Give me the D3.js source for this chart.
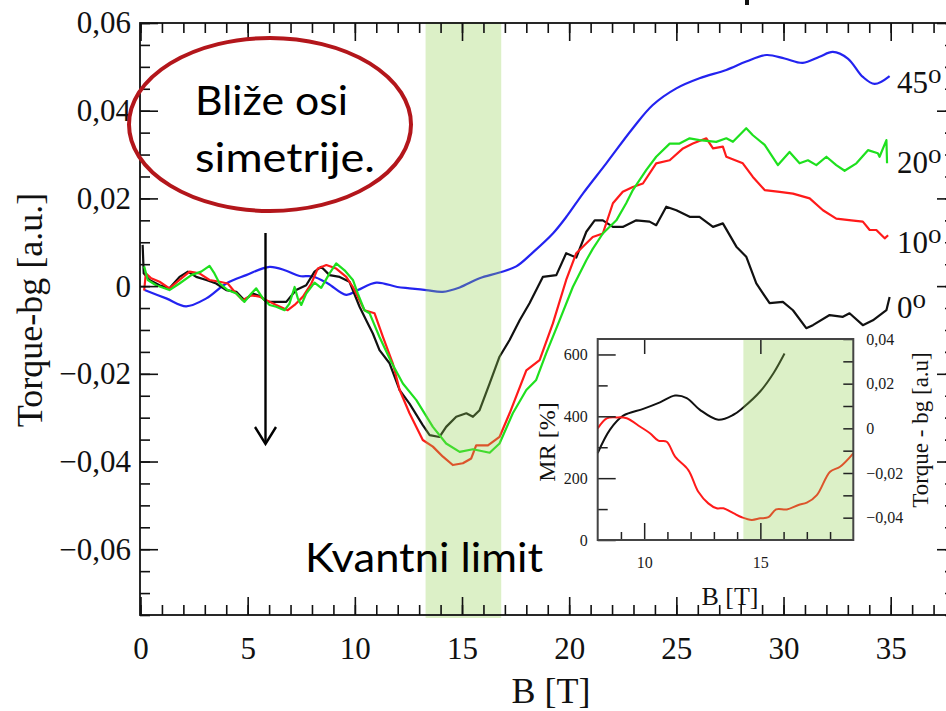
<!DOCTYPE html>
<html>
<head>
<meta charset="utf-8">
<script src="https://cdn.jsdelivr.net/npm/d3@7"></script>
<style>
  html, body { margin: 0; padding: 0; background: #fff; }
  svg { display: block; }
</style>
</head>
<body>
<script>
// ---------------- DATA ----------------
const xMajorTicks = [0, 5, 10, 15, 20, 25, 30, 35];
const yMajorTicks = [-0.06, -0.04, -0.02, 0, 0.02, 0.04, 0.06];
const bandRange = [13.3, 16.83];           // "Kvantni limit" band, T
const curveLabels = ["45", "20", "10", "0"];
const curveLabelValues = [0.0465, 0.0283, 0.0101, -0.0047];

const blue45 = [[0.19,-0.0009],[1.2,-0.0028],[2.13,-0.0046],[3.07,-0.0028],[4.0,0.0006],[4.93,0.0025],[6.02,0.0044],[6.8,0.0035],[7.42,0.0023],[8.04,0.0022],[8.74,0.0006],[9.6,-0.002],[10.14,-0.0009],[11.0,0.0008],[11.98,-0.0002],[12.55,-0.0005],[13.33,-0.0009],[14.1,-0.0013],[14.89,-0.0003],[15.82,0.0018],[16.75,0.0031],[17.53,0.0045],[18.31,0.0077],[19.24,0.012],[19.9,0.016],[20.64,0.0211],[21.73,0.028],[22.97,0.036],[23.9,0.0413],[25.0,0.0451],[26.08,0.0474],[27.33,0.0493],[28.26,0.0512],[29.2,0.0527],[30.05,0.0519],[30.9,0.0509],[31.68,0.0523],[32.3,0.0534],[33.0,0.0519],[33.7,0.0477],[34.25,0.0461],[34.95,0.0479]];

const green20 = [[0.17,0.0045],[0.34,0.0014],[0.73,0.0002],[1.35,-0.0009],[1.82,0.0006],[2.37,0.0025],[2.83,0.0033],[3.22,0.0046],[3.45,0.0029],[3.69,0.0006],[4.07,-0.0009],[4.47,-0.0017],[4.85,-0.0036],[5.17,-0.0017],[5.4,-0.0005],[5.71,-0.0028],[6.02,-0.0043],[6.33,-0.0047],[6.72,-0.0055],[6.95,-0.004],[7.19,-0.0002],[7.34,-0.0028],[7.5,-0.0043],[7.73,-0.0017],[8.12,0.0008],[8.43,-0.0004],[8.82,0.0029],[9.13,0.0052],[9.52,0.0036],[9.91,0.0014],[10.14,-0.0017],[10.45,-0.0055],[10.69,-0.0062],[11.15,-0.0116],[11.7,-0.0173],[12.24,-0.0222],[12.87,-0.026],[13.64,-0.0321],[14.26,-0.0359],[14.89,-0.0378],[15.51,-0.0372],[16.29,-0.038],[16.75,-0.0359],[17.37,-0.029],[18.0,-0.0237],[18.46,-0.0214],[18.93,-0.0153],[19.55,-0.0078],[20.17,-0.0002],[20.8,0.0059],[21.1,0.0085],[21.57,0.012],[22.2,0.015],[22.66,0.0189],[22.97,0.0219],[23.6,0.0265],[24.06,0.0295],[24.69,0.0325],[25.15,0.0325],[25.62,0.0337],[26.08,0.0333],[26.86,0.0329],[27.33,0.0337],[27.64,0.0329],[28.26,0.036],[28.57,0.0344],[29.12,0.0322],[29.74,0.0276],[30.28,0.0306],[30.75,0.028],[31.14,0.0287],[31.53,0.0276],[32.0,0.0295],[32.46,0.0276],[32.85,0.0263],[33.4,0.028],[33.94,0.031],[34.4,0.0303],[34.48,0.0295],[34.8,0.0333],[34.83,0.028]];

const red10 = [[0.17,-0.001],[0.25,0.0029],[0.5,0.0018],[0.89,0.001],[1.35,-0.0005],[1.82,0.0014],[2.29,0.0033],[2.75,0.0029],[3.22,0.0014],[3.69,0.001],[4.07,0.0006],[4.39,-0.0013],[4.77,-0.0032],[5.17,-0.0021],[5.55,-0.0024],[5.87,-0.0032],[6.33,-0.0043],[6.87,-0.0055],[7.19,-0.0043],[7.58,-0.0024],[7.97,0.0006],[8.27,0.004],[8.67,0.0048],[9.13,0.004],[9.6,0.0021],[9.91,-0.0002],[10.45,-0.0055],[10.92,-0.0062],[11.31,-0.0116],[11.77,-0.0176],[12.09,-0.0237],[12.55,-0.029],[13.17,-0.0351],[13.64,-0.0366],[14.11,-0.0389],[14.57,-0.0408],[15.04,-0.0404],[15.43,-0.0393],[15.66,-0.0363],[16.21,-0.0363],[16.75,-0.0344],[17.22,-0.029],[18.0,-0.0192],[18.62,-0.0169],[19.24,-0.0085],[19.86,0.0014],[20.33,0.0075],[21.1,0.0112],[21.57,0.012],[22.04,0.0189],[22.5,0.0215],[22.97,0.0226],[23.44,0.0234],[24.06,0.028],[24.69,0.0287],[25.31,0.0314],[25.77,0.0325],[26.4,0.0337],[26.71,0.0314],[27.17,0.0318],[27.33,0.0295],[28.1,0.028],[28.57,0.0249],[29.12,0.0219],[29.82,0.0215],[30.44,0.0211],[31.22,0.02],[31.84,0.0173],[32.46,0.0154],[33.16,0.015],[33.7,0.0147],[34.02,0.0128],[34.33,0.0128],[34.72,0.0109],[34.88,0.0116]];

const black0 = [[0.1,0.0094],[0.15,0.0029],[0.42,0.0014],[0.89,0.0002],[1.35,-0.0005],[1.82,0.0021],[2.21,0.0033],[2.6,0.0021],[3.07,0.0014],[3.53,0.0006],[4.0,-0.0009],[4.47,-0.0013],[4.85,-0.0032],[5.24,-0.0017],[5.63,-0.0024],[5.87,-0.0036],[6.33,-0.0036],[6.8,-0.0036],[7.26,-0.0009],[7.73,0.0002],[8.12,0.0033],[8.43,0.0044],[8.82,0.0025],[9.29,0.0021],[9.75,0.001],[10.22,-0.0047],[10.53,-0.0078],[10.84,-0.0108],[11.15,-0.0146],[11.62,-0.0176],[12.09,-0.0237],[12.55,-0.0268],[13.17,-0.0317],[13.49,-0.034],[13.95,-0.0344],[14.26,-0.0321],[14.73,-0.0298],[15.2,-0.029],[15.51,-0.0298],[15.82,-0.0283],[16.29,-0.0222],[16.75,-0.0161],[17.22,-0.0123],[17.69,-0.0078],[18.15,-0.0039],[18.77,0.0021],[19.4,0.0025],[19.86,0.0075],[20.33,0.0065],[20.8,0.0124],[21.19,0.015],[21.57,0.015],[22.04,0.0135],[22.5,0.0135],[23.13,0.015],[23.75,0.0147],[24.06,0.0139],[24.53,0.0181],[25.0,0.0173],[25.62,0.0158],[26.08,0.0158],[26.71,0.0135],[27.17,0.0143],[27.8,0.009],[28.26,0.0067],[28.73,0.0006],[29.35,-0.0039],[29.97,-0.0036],[30.44,-0.0055],[31.06,-0.0096],[31.37,-0.0089],[32.15,-0.0066],[32.77,-0.007],[33.08,-0.0062],[33.7,-0.0089],[34.17,-0.0078],[34.8,-0.0055],[34.95,-0.0025]];

// inset
const insetXTicks = [10, 15];
const insetMRTicks = [0, 200, 400, 600];
const insetTorqueTicks = [-0.04, -0.02, 0, 0.02, 0.04];
const insetBand = [14.27, 19];
const insetMR = [[8,281],[8.53,357],[9.1,402],[9.96,424],[10.68,445],[11.33,467],[11.83,459],[12.4,421],[13.19,389],[13.84,405],[14.24,427],[15,481],[15.57,540],[16.04,603]];
const insetTorque = [[8,0.0],[8.39,0.0045],[8.82,0.0049],[9.25,0.0045],[9.83,0.0007],[10.25,-0.0022],[10.61,-0.0055],[10.97,-0.006],[11.33,-0.0127],[11.9,-0.0187],[12.33,-0.0284],[12.76,-0.0336],[13.12,-0.0358],[13.41,-0.0358],[13.84,-0.038],[14.2,-0.0398],[14.63,-0.041],[14.99,-0.0403],[15.35,-0.0398],[15.68,-0.0363],[16.14,-0.0363],[16.64,-0.0343],[17,-0.0333],[17.43,-0.0299],[18,-0.0194],[18.43,-0.0172],[19,-0.0112]];

// ---------------- DRAW ----------------
const W = 946, H = 711;
const svg = d3.select("body").append("svg").attr("width", W).attr("height", H);
svg.append("rect").attr("width", W).attr("height", H).attr("fill", "#fff");

const serif = "'Liberation Serif', 'DejaVu Serif', serif";
const sans = "Lato, 'Noto Sans', sans-serif";
const x = d3.scaleLinear().domain([0, 38]).range([140.5, 955]);
const y = d3.scaleLinear().domain([-0.075, 0.06]).range([615, 23]);
const fmt = v => Math.abs(v) < 1e-9 ? "0" : d3.format(".2f")(v).replace(".", ",");

const line = d3.line().x(d => x(d[0])).y(d => y(d[1]));
const smooth = d3.line().x(d => x(d[0])).y(d => y(d[1])).curve(d3.curveCatmullRom.alpha(0.5));

const curves = svg.append("g").attr("fill", "none").attr("stroke-width", 2.2).attr("stroke-linejoin", "round");
curves.append("path").datum(blue45).attr("d", smooth).attr("stroke", "#2323f0");
curves.append("path").datum(black0).attr("d", line).attr("stroke", "#111");
curves.append("path").datum(red10).attr("d", line).attr("stroke", "#ff1a1a");
curves.append("path").datum(green20).attr("d", line).attr("stroke", "#1ee01e");

// band overlay
svg.append("rect")
  .attr("x", x(bandRange[0])).attr("width", x(bandRange[1]) - x(bandRange[0]))
  .attr("y", 22).attr("height", 596)
  .attr("fill", "#92d050").attr("opacity", 0.32);

// axes
const xMinor = d3.range(0, 39, 1);
const yMinor = d3.range(-0.075, 0.0601, 0.005);
function styleAxis(g) {
  g.select(".domain").remove();
  g.selectAll("line").attr("stroke", "#111").attr("stroke-width", 1.6);
  g.selectAll("text").attr("font-family", serif).attr("font-size", 31).attr("fill", "#111");
}
svg.append("g").attr("transform", "translate(0,615)")
  .call(d3.axisBottom(x).tickValues(xMinor).tickSize(-10).tickFormat("")).call(styleAxis);
svg.append("g").attr("transform", "translate(0,615)")
  .call(d3.axisBottom(x).tickValues(xMajorTicks).tickSize(-18).tickPadding(22).tickFormat(d3.format("d"))).call(styleAxis);
svg.append("g").attr("transform", "translate(0,23)")
  .call(d3.axisTop(x).tickValues(xMinor).tickSize(-10).tickFormat("")).call(styleAxis);
svg.append("g").attr("transform", "translate(0,23)")
  .call(d3.axisTop(x).tickValues(xMajorTicks).tickSize(-18).tickFormat("")).call(styleAxis);
svg.append("g").attr("transform", "translate(140,0)")
  .call(d3.axisLeft(y).tickValues(yMinor).tickSize(-10).tickFormat("")).call(styleAxis);
svg.append("g").attr("transform", "translate(140,0)")
  .call(d3.axisLeft(y).tickValues(yMajorTicks).tickSize(-18).tickPadding(9).tickFormat(fmt)).call(styleAxis);
svg.append("g").attr("transform", "translate(955,0)")
  .call(d3.axisRight(y).tickValues(yMinor).tickSize(-10).tickFormat("")).call(styleAxis);
svg.append("g").attr("transform", "translate(955,0)")
  .call(d3.axisRight(y).tickValues(yMajorTicks).tickSize(-18).tickFormat("")).call(styleAxis);
svg.append("rect").attr("x", 140).attr("y", 23).attr("width", 955 - 140).attr("height", 615 - 23)
  .attr("fill", "none").attr("stroke", "#111").attr("stroke-width", 1.8);

// axis titles
svg.append("text").attr("x", 551).attr("y", 703).attr("text-anchor", "middle")
  .attr("font-family", serif).attr("font-size", 36).attr("fill", "#111").text("B [T]");
svg.append("text").attr("transform", "translate(42,310) rotate(-90)").attr("text-anchor", "middle")
  .attr("font-family", serif).attr("font-size", 36).attr("fill", "#111").text("Torque-bg [a.u.]");

// curve labels
curveLabels.forEach((lab, i) => {
  const t = svg.append("text").attr("x", 897).attr("y", y(curveLabelValues[i]) + 11)
    .attr("font-family", serif).attr("font-size", 31).attr("fill", "#111");
  t.append("tspan").text(lab);
  t.append("tspan").attr("dy", -10).attr("font-size", 27).text("o");
});

// small fragment of a cut-off glyph at the top edge
svg.append("rect").attr("x", 745).attr("y", 0).attr("width", 4).attr("height", 5).attr("fill", "#111");

// ellipse annotation
svg.append("ellipse").attr("cx", 270).attr("cy", 124.5).attr("rx", 141).attr("ry", 86.5)
  .attr("fill", "none").attr("stroke", "#b3161b").attr("stroke-width", 4);
svg.append("text").attr("x", 195).attr("y", 115).attr("font-family", sans).attr("font-size", 40)
  .attr("fill", "#000").attr("textLength", 153).attr("lengthAdjust", "spacingAndGlyphs").text("Bliže osi");
svg.append("text").attr("x", 195).attr("y", 172).attr("font-family", sans).attr("font-size", 40)
  .attr("fill", "#000").attr("textLength", 180).attr("lengthAdjust", "spacingAndGlyphs").text("simetrije.");

// arrow
svg.append("line").attr("x1", 265.5).attr("x2", 265.5).attr("y1", 233).attr("y2", 444)
  .attr("stroke", "#000").attr("stroke-width", 2.4);
svg.append("path").attr("d", "M255,427 L265.5,444 L276,427").attr("fill", "none")
  .attr("stroke", "#000").attr("stroke-width", 2.4);

// Kvantni limit
svg.append("text").attr("x", 305).attr("y", 572).attr("font-family", sans).attr("font-size", 40)
  .attr("fill", "#000").attr("textLength", 238).attr("lengthAdjust", "spacingAndGlyphs").text("Kvantni limit");

// ---------------- INSET ----------------
const ix = d3.scaleLinear().domain([8, 19]).range([597.7, 853.3]);
const iyL = d3.scaleLinear().domain([0, 650]).range([540, 339]);
const iyR = d3.scaleLinear().domain([-0.05, 0.04]).range([540, 339]);
const inset = svg.append("g");
inset.append("rect").attr("x", 597.7).attr("y", 339).attr("width", 853.3 - 597.7).attr("height", 201).attr("fill", "#fff");
inset.append("path").datum(insetMR).attr("fill", "none").attr("stroke", "#111").attr("stroke-width", 2)
  .attr("d", d3.line().x(d => ix(d[0])).y(d => iyL(d[1])).curve(d3.curveCatmullRom.alpha(0.5)));
inset.append("path").datum(insetTorque).attr("fill", "none").attr("stroke", "#ff1a1a").attr("stroke-width", 2)
  .attr("d", d3.line().x(d => ix(d[0])).y(d => iyR(d[1])).curve(d3.curveCatmullRom.alpha(0.5)));
inset.append("rect").attr("x", ix(insetBand[0])).attr("width", ix(insetBand[1]) - ix(insetBand[0]))
  .attr("y", 339).attr("height", 201).attr("fill", "#92d050").attr("opacity", 0.32);

function styleInset(g) {
  g.select(".domain").remove();
  g.selectAll("line").attr("stroke", "#222").attr("stroke-width", 1.5);
  g.selectAll("text").attr("font-family", serif).attr("font-size", 16).attr("fill", "#1a1a1a");
}
const ixMinor = d3.range(9, 19, 1).filter(v => v !== 10 && v !== 15);
inset.append("g").attr("transform", "translate(0,540)")
  .call(d3.axisBottom(ix).tickValues(ixMinor).tickSize(-8).tickFormat("")).call(styleInset);
inset.append("g").attr("transform", "translate(0,540)")
  .call(d3.axisBottom(ix).tickValues(insetXTicks).tickSize(-17).tickPadding(17).tickFormat(d3.format("d"))).call(styleInset);
inset.append("g").attr("transform", "translate(0,339)")
  .call(d3.axisTop(ix).tickValues(insetXTicks).tickSize(-15).tickFormat("")).call(styleInset);
inset.append("g").attr("transform", "translate(597.7,0)")
  .call(d3.axisLeft(iyL).tickValues([100, 300, 500]).tickSize(-10).tickFormat("")).call(styleInset);
inset.append("g").attr("transform", "translate(597.7,0)")
  .call(d3.axisLeft(iyL).tickValues(insetMRTicks).tickSize(-18).tickPadding(10).tickFormat(d3.format("d"))).call(styleInset);
inset.append("g").attr("transform", "translate(853.3,0)")
  .call(d3.axisRight(iyR).tickValues(d3.range(-0.04, 0.0401, 0.01)).tickSize(-10).tickFormat("")).call(styleInset);
inset.append("g").attr("transform", "translate(853.3,0)")
  .call(d3.axisRight(iyR).tickValues(insetTorqueTicks).tickSize(0).tickPadding(13).tickFormat(fmt)).call(styleInset);
inset.append("rect").attr("x", 597.7).attr("y", 339).attr("width", 853.3 - 597.7).attr("height", 201)
  .attr("fill", "none").attr("stroke", "#444").attr("stroke-width", 2);

inset.append("text").attr("x", 730).attr("y", 605).attr("text-anchor", "middle")
  .attr("font-family", serif).attr("font-size", 26).attr("fill", "#111").text("B [T]");
inset.append("text").attr("transform", "translate(555,442) rotate(-90)").attr("text-anchor", "middle")
  .attr("font-family", serif).attr("font-size", 24).attr("fill", "#111").text("MR [%]");
inset.append("text").attr("transform", "translate(928,430) rotate(-90)").attr("text-anchor", "middle")
  .attr("font-family", serif).attr("font-size", 23).attr("fill", "#111").text("Torque - bg [a.u]");
</script>
</body>
</html>
